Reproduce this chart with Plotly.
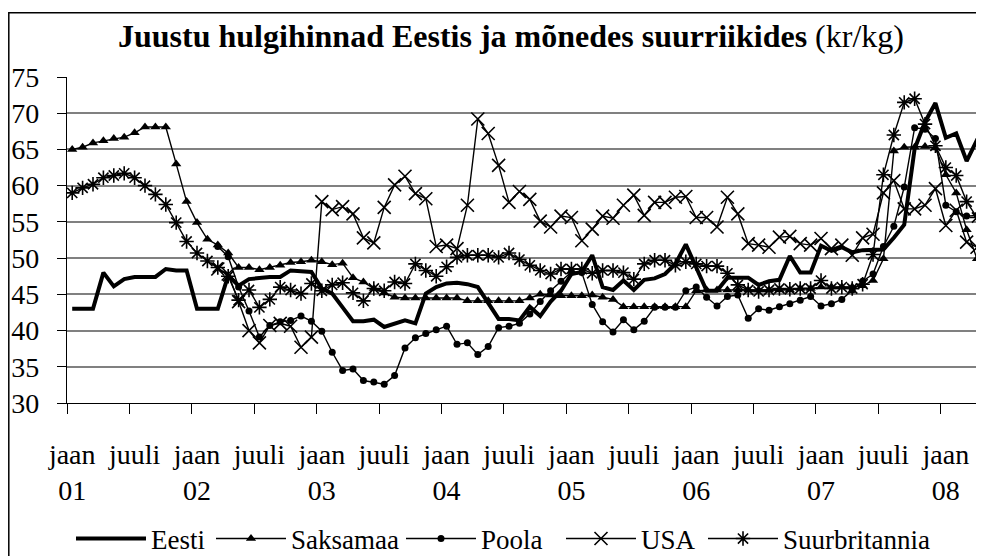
import plotly.graph_objects as go

# Monthly index: 0 = jaan 2001 ... 84 = jaan 2008
months = list(range(89))

tick_pos = list(range(0, 85, 6))
tick_text = ["jaan<br>01", "juuli", "jaan<br>02", "juuli", "jaan<br>03", "juuli",
             "jaan<br>04", "juuli", "jaan<br>05", "juuli", "jaan<br>06", "juuli",
             "jaan<br>07", "juuli", "jaan<br>08"]
boundary_ticks = [p - 0.5 for p in tick_pos]

eesti = [43.0, 43.0, 43.0, 48.0, 46.1, 47.1, 47.4, 47.4, 47.4, 48.5, 48.3, 48.3,
         43.0, 43.0, 43.0, 47.6, 46.2, 47.1, 47.3, 47.4, 47.4, 48.3, 48.2, 48.1,
         45.8, 45.1, 43.2, 41.3, 41.3, 41.5, 40.5, 40.9, 41.4, 41.0, 45.1, 46.0,
         46.5, 46.6, 46.4, 46.0, 43.7, 41.6, 41.6, 41.4, 43.3, 42.0, 44.0, 45.5,
         47.8, 48.1, 50.4, 46.0, 45.6, 46.9, 45.6, 47.0, 47.2, 47.8, 49.2, 51.9,
         48.7, 45.5, 45.5, 47.3, 47.3, 47.3, 46.3, 46.8, 47.0, 50.3, 48.0, 48.0,
         51.7, 51.0, 51.5, 50.8, 51.1, 51.1, 51.2, 52.8, 54.6, 65.1, 68.8, 71.4,
         66.6, 67.2, 63.4, 66.3, 66.4]

saksamaa = [65.0, 65.3, 65.9, 66.2, 66.5, 66.7, 67.3, 68.1, 68.1, 68.1, 63.0, 57.8,
            54.9, 52.6, 51.8, 50.7, 48.7, 48.7, 48.4, 48.7, 49.0, 49.4, 49.5, 49.7,
            49.5, 49.1, 49.3, 47.3, 46.7, 45.8, 45.2, 44.6, 44.5, 44.5, 44.5, 44.5,
            44.5, 44.5, 44.1, 44.1, 44.1, 44.1, 44.1, 44.1, 44.5, 45.0, 44.9, 44.8,
            44.8, 44.8, 44.9, 44.6, 44.3, 43.3, 43.3, 43.3, 43.3, 43.3, 43.3, 43.3,
            45.5, 45.6, 45.6, 45.6, 45.6, 45.6, 45.6, 45.6, 45.6, 45.6, 45.8, 45.8,
            46.0, 46.0, 46.0, 46.0, 46.2, 46.9, 49.9, 64.8, 65.3, 65.3, 65.4, 65.2,
            61.5, 59.0, 53.9, 49.9, 48.5]

poola = [None] * 14 + [
    51.6, 50.2, 46.0, 42.7, 39.1, 40.7, 41.2, 41.4, 42.0, 41.3,
    39.9, 37.0, 34.5, 34.7, 33.1, 32.9, 32.6, 33.8, 37.6, 39.0, 39.6, 40.1,
    40.6, 38.1, 38.3, 36.7, 37.8, 40.4, 40.6, 41.0, 42.3, 44.0, 45.5, 46.8,
    48.1, 48.0, 43.6, 41.2, 39.8, 41.5, 40.1, 41.3, 43.2, 43.2, 43.2, 45.5,
    46.0, 44.6, 43.4, 44.7, 44.9, 41.7, 43.0, 42.8, 43.3, 43.7, 44.2, 44.7,
    43.4, 43.7, 44.3, 45.6, 46.8, 47.8, 51.6, 54.4, 59.8, 68.0, 67.8, 66.5,
    57.3, 56.4, 55.8, 55.9, 54.0]

usa = [None] * 14 + [
    48.5, 47.8, 44.0, 40.0, 38.3, 40.7, 41.0, 40.6, 37.7, 39.1,
    57.8, 56.7, 57.1, 56.1, 52.8, 52.1, 57.0, 60.1, 61.3, 58.9, 58.2, 51.6,
    51.8, 51.3, 57.3, 69.2, 67.2, 62.8, 57.7, 59.2, 58.1, 55.1, 54.3, 55.8,
    55.6, 52.4, 54.0, 55.8, 55.5, 57.3, 58.7, 55.9, 57.7, 57.7, 58.4, 58.5,
    55.6, 55.6, 54.3, 58.4, 56.1, 52.0, 51.8, 51.5, 52.9, 53.0, 52.0, 51.8,
    52.7, 51.3, 51.8, 50.4, 52.8, 53.3, 59.0, 60.7, 56.8, 56.8, 57.3, 59.6,
    54.5, 56.6, 52.2, 51.5, 50.5]

suurbritannia = [59.0, 59.7, 60.2, 61.1, 61.4, 61.7, 61.1, 60.0, 58.8, 57.4, 54.9, 52.3,
                 50.7, 49.6, 48.7, 47.5, 44.2, 45.6, 43.2, 44.3, 46.0, 45.6, 45.1, 46.5,
                 45.5, 46.3, 46.6, 45.2, 44.1, 45.8, 45.5, 46.7, 46.5, 49.2, 48.3, 47.5,
                 48.8, 50.1, 50.4, 50.4, 50.4, 50.1, 50.7, 49.8, 49.0, 48.3, 47.8, 48.5,
                 48.5, 48.5, 47.9, 48.3, 48.3, 48.0, 47.1, 49.2, 49.7, 49.7, 49.0, 49.5,
                 49.2, 48.9, 48.9, 47.9, 46.3, 45.6, 45.4, 45.6, 45.8, 45.7, 45.8, 45.8,
                 46.9, 45.8, 46.0, 45.8, 46.4, 50.5, 61.5, 67.0, 71.5, 72.0, 68.5, 65.5,
                 62.5, 61.4, 57.8, 55.6, 55.0]

FONT = "Liberation Serif, Times New Roman, serif"

# The page body adds an 8px offset, so the figure is 8px smaller than the window.
W, H = 976, 548
ML, MT, MB = 59, 69, 153
PW, PH = W - ML, H - MT - MB


def px_x(x):
    return (x - ML) / PW


def px_y(y):
    return (H - MB - y) / PH


fig = go.Figure()

fig.add_trace(go.Scatter(x=months, y=eesti, name="Eesti", mode="lines", legendwidth=55,
                         line=dict(color="black", width=4)))
fig.add_trace(go.Scatter(x=months, y=saksamaa, name="Saksamaa", mode="lines+markers",
                         legendwidth=105,
                         line=dict(color="black", width=1.4),
                         marker=dict(symbol="triangle-up", size=9, color="black")))
fig.add_trace(go.Scatter(x=months, y=poola, name="Poola", mode="lines+markers",
                         legendwidth=75,
                         line=dict(color="black", width=1.4),
                         marker=dict(symbol="circle", size=7, color="black")))
fig.add_trace(go.Scatter(x=months, y=usa, name="USA", mode="lines+markers",
                         legendwidth=57,
                         line=dict(color="black", width=1.4),
                         marker=dict(symbol="x-thin-open", size=13, color="black",
                                     line=dict(color="black", width=1.6))))
fig.add_trace(go.Scatter(x=months, y=suurbritannia, name="Suurbritannia", mode="lines+markers",
                         line=dict(color="black", width=1.4),
                         marker=dict(symbol="asterisk-open", size=12, color="black",
                                     line=dict(color="black", width=1.6))))

fig.update_layout(
    width=W, height=H,
    margin=dict(l=ML, r=0, t=MT, b=MB, pad=0, autoexpand=False),
    paper_bgcolor="white", plot_bgcolor="white",
    font=dict(family=FONT, size=28, color="black"),
    showlegend=True,
    legend=dict(orientation="h", x=px_x(63), xanchor="left", y=px_y(531), yanchor="middle",
                font=dict(family=FONT, size=27, color="black"),
                itemwidth=70, tracegroupgap=0, bgcolor="rgba(0,0,0,0)"),
    xaxis=dict(range=[-0.5, 87.67], tickmode="array", tickvals=tick_pos, ticktext=tick_text,
               ticks="", showgrid=False, zeroline=False, automargin=False,
               showline=True, linecolor="black", linewidth=1.4,
               tickfont=dict(family=FONT, size=28), ticklabelstandoff=26,
               minor=dict(tickmode="array", tickvals=boundary_ticks, ticks="outside",
                          ticklen=10, tickwidth=1.4, tickcolor="black", showgrid=False)),
    yaxis=dict(range=[30, 75], tickmode="array", tickvals=list(range(30, 80, 5)),
               showgrid=True, gridcolor="#808080", gridwidth=1.6, zeroline=False,
               automargin=False,
               showline=True, linecolor="black", linewidth=1.4,
               ticks="outside", ticklen=9, tickwidth=1.4, tickcolor="black",
               tickfont=dict(family=FONT, size=28), ticklabelstandoff=12),
    annotations=[dict(
        text="<b>Juustu hulgihinnad Eestis ja mõnedes suurriikides</b> (kr/kg)",
        xref="paper", yref="paper", x=px_x(503), y=px_y(28),
        xanchor="center", yanchor="middle", showarrow=False,
        font=dict(family=FONT, size=32, color="black"))],
    shapes=[dict(type="rect", xref="paper", yref="paper",
                 x0=px_x(0.8), x1=1.02, y0=-0.6, y1=px_y(4.7),
                 line=dict(color="black", width=1.5), fillcolor="rgba(0,0,0,0)",
                 layer="below")],
)

fig.write_html("out.html")
